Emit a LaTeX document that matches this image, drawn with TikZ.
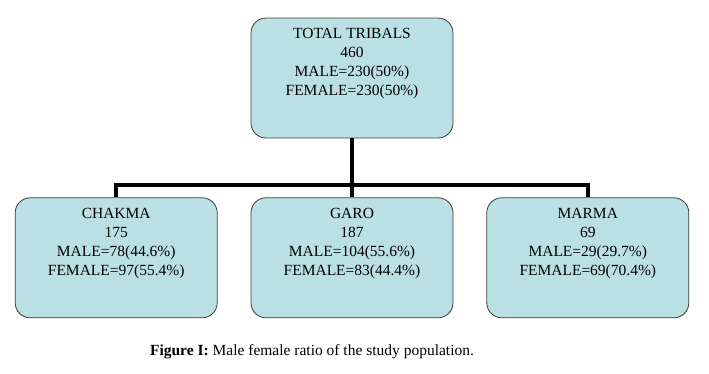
\documentclass[tikz,border=0pt]{standalone}
\usepackage{fontspec}
\setmainfont{Liberation Serif}
\usetikzlibrary{positioning}
\definecolor{boxfill}{HTML}{BBE0E3}
\definecolor{boxline}{HTML}{3C3C3C}
\tikzset{
    tribe/.style={
           rectangle,
           rounded corners=15pt,
           draw=boxline, thick,
           fill=boxfill,
           inner sep=0pt,
           text centered,
           },
    link/.style={
           draw=black, line width=4pt,
           },
}
% box content: fixed size, lines set from the top
\newcommand{\tribetext}[2][10pt]{%
  \parbox[c][120pt][t]{202pt}{\centering\fontsize{15.5}{19}\selectfont
  \vspace*{#1}#2}}

\begin{document}
\begin{tikzpicture}[x=1pt,y=-1pt]
 \useasboundingbox (0,0) rectangle (709,373);

 % top node
 \node[tribe] (TOTAL) at (352,78)
 {\tribetext{TOTAL TRIBALS\\460\\MALE=230(50\%)\\FEMALE=230(50\%)}};

 % the three groups below
 \node[tribe,
 below=59pt of TOTAL] (GARO)
 {\tribetext{GARO\\187\\MALE=104(55.6\%)\\FEMALE=83(44.4\%)}};

 \node[tribe,
 left=33pt of GARO] (CHAKMA)
 {\tribetext{CHAKMA\\175\\MALE=78(44.6\%)\\FEMALE=97(55.4\%)}};

 \node[tribe,
 right=33pt of GARO] (MARMA)
 {\tribetext{MARMA\\69\\MALE=29(29.7\%)\\FEMALE=69(70.4\%)}};

 % connectors
 \coordinate (BAR) at ([yshift=-47pt]TOTAL.south);
 \draw[link] (TOTAL.south) -- (GARO.north);
 \draw[link] (CHAKMA.north) |- (BAR) -| (MARMA.north);

 % caption
 \node (CAPTION) at (312,352)
 {\fontsize{15.5}{18}\selectfont\textbf{Figure I:} Male female ratio of the study population.};
\end{tikzpicture}
\end{document}
